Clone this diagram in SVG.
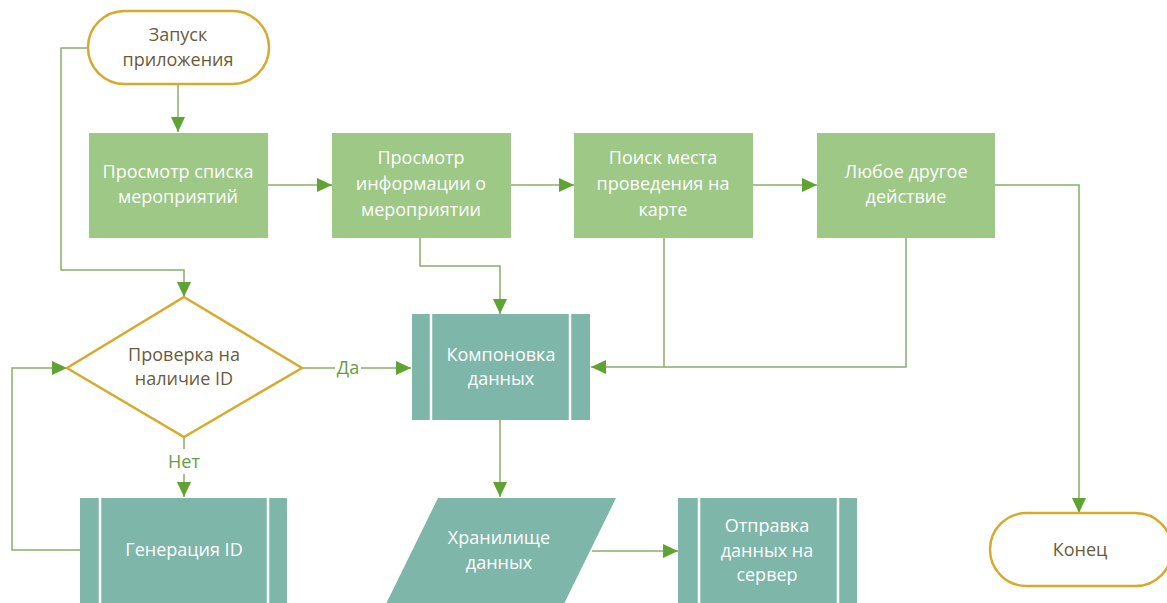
<svg xmlns="http://www.w3.org/2000/svg" width="1167" height="603" viewBox="0 0 1167 603">
<style>
.bg{fill:#ffffff}
.proc{fill:#9dc886}
.sub{fill:#7eb6a9}
.div{stroke:#ffffff;stroke-width:2.5}
.term{fill:#ffffff;stroke:#d8aa2c;stroke-width:2.5}
.dec{fill:#ffffff;stroke:#d8aa2c;stroke-width:2.5}
.wt{font-family:"Open Sans","Liberation Sans",sans-serif;font-size:18px;fill:#ffffff;text-anchor:middle}
.dt{font-family:"Open Sans","Liberation Sans",sans-serif;font-size:18px;fill:#6b5b3c;text-anchor:middle}
.lt{font-family:"Open Sans","Liberation Sans",sans-serif;font-size:18px;fill:#6a9a45;text-anchor:middle}
.ln{fill:none;stroke:#8aad6a;stroke-width:1.5}
</style>
<defs>
<marker id="ah" markerUnits="userSpaceOnUse" markerWidth="16" markerHeight="16" viewBox="0 0 16 16" refX="15" refY="8" orient="auto">
<path d="M0,1 L15,8 L0,15 Z" fill="#5fa332"/>
</marker>
</defs>
<rect class="bg" x="0" y="0" width="1167" height="603"/>

<g id="connectors">
<path class="ln" d="M178,85 V132" marker-end="url(#ah)"/>
<path class="ln" d="M88,48 H61 V270 H184 V297" marker-end="url(#ah)"/>
<path class="ln" d="M268,185 H332" marker-end="url(#ah)"/>
<path class="ln" d="M511,185 H574" marker-end="url(#ah)"/>
<path class="ln" d="M753,185 H817" marker-end="url(#ah)"/>
<path class="ln" d="M420,238 V266 H500 V314" marker-end="url(#ah)"/>
<path class="ln" d="M664,238 V367"/>
<path class="ln" d="M906,238 V367 H591" marker-end="url(#ah)"/>
<path class="ln" d="M995,185 H1079 V513" marker-end="url(#ah)"/>
<path class="ln" d="M302,368 H335"/>
<path class="ln" d="M361,368 H411" marker-end="url(#ah)"/>
<text class="lt" x="348" y="374">Да</text>
<path class="ln" d="M184,437 V449"/>
<path class="ln" d="M184,474 V497" marker-end="url(#ah)"/>
<text class="lt" x="184" y="468">Нет</text>
<path class="ln" d="M80,550 H12 V368 H67" marker-end="url(#ah)"/>
<path class="ln" d="M500,420 V497" marker-end="url(#ah)"/>
<path class="ln" d="M592,551 H678" marker-end="url(#ah)"/>
</g>

<g id="start">
<rect class="term" x="88" y="11" width="181" height="73" rx="36.5"/>
<text class="dt" x="178" y="41">Запуск</text>
<text class="dt" x="178" y="66">приложения</text>
</g>

<g id="list">
<rect class="proc" x="89" y="133" width="179" height="105"/>
<text class="wt" x="178" y="178">Просмотр списка</text>
<text class="wt" x="178" y="203">мероприятий</text>
</g>

<g id="info">
<rect class="proc" x="332" y="133" width="179" height="105"/>
<text class="wt" x="421" y="164">Просмотр</text>
<text class="wt" x="421" y="190">информации о</text>
<text class="wt" x="421" y="216">мероприятии</text>
</g>

<g id="map">
<rect class="proc" x="574" y="133" width="179" height="105"/>
<text class="wt" x="663" y="164">Поиск места</text>
<text class="wt" x="663" y="190">проведения на</text>
<text class="wt" x="663" y="216">карте</text>
</g>

<g id="other">
<rect class="proc" x="817" y="133" width="178" height="105"/>
<text class="wt" x="906" y="178">Любое другое</text>
<text class="wt" x="906" y="203">действие</text>
</g>

<g id="check">
<polygon class="dec" points="184,297 302,368 184,437 67,368"/>
<text class="dt" x="184" y="361">Проверка на</text>
<text class="dt" x="184" y="385">наличие ID</text>
</g>

<g id="compose">
<rect class="sub" x="412" y="314" width="178" height="106"/>
<line class="div" x1="431" y1="314" x2="431" y2="420"/>
<line class="div" x1="570" y1="314" x2="570" y2="420"/>
<text class="wt" x="501" y="361">Компоновка</text>
<text class="wt" x="501" y="385">данных</text>
</g>

<g id="genid">
<rect class="sub" x="80" y="498" width="207" height="110"/>
<line class="div" x1="100" y1="498" x2="100" y2="608"/>
<line class="div" x1="268" y1="498" x2="268" y2="608"/>
<text class="wt" x="184" y="556">Генерация ID</text>
</g>

<g id="storage">
<polygon class="sub" points="438,498 616,498 561,610 383,610"/>
<text class="wt" x="499" y="544">Хранилище</text>
<text class="wt" x="499" y="569">данных</text>
</g>

<g id="send">
<rect class="sub" x="678" y="498" width="179" height="110"/>
<line class="div" x1="699" y1="498" x2="699" y2="608"/>
<line class="div" x1="838" y1="498" x2="838" y2="608"/>
<text class="wt" x="767" y="532">Отправка</text>
<text class="wt" x="767" y="557">данных на</text>
<text class="wt" x="767" y="581">сервер</text>
</g>

<g id="end">
<rect class="term" x="990" y="513" width="182" height="73" rx="36.5"/>
<text class="dt" x="1080" y="556">Конец</text>
</g>
</svg>
